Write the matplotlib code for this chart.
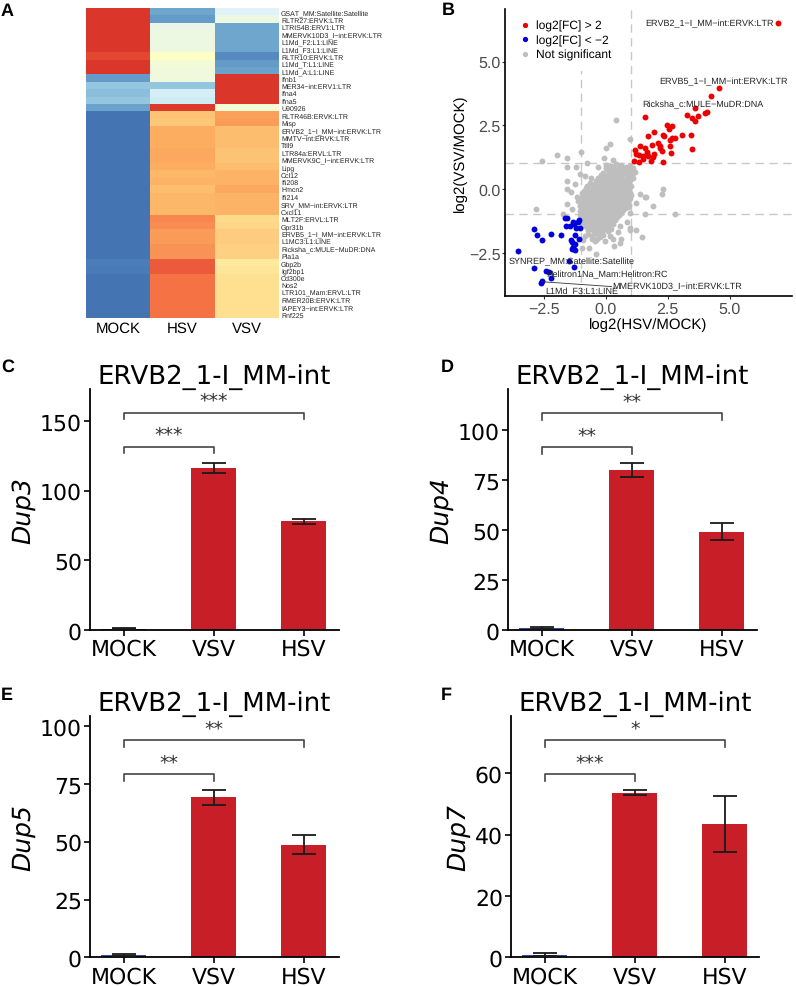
import matplotlib
matplotlib.use("Agg")
import matplotlib.pyplot as plt
from matplotlib.lines import Line2D

W, H = 796, 987
plt.rcParams['font.family'] = ['Liberation Sans', 'DejaVu Sans']
plt.rcParams['text.hinting'] = 'no_hinting'
plt.rcParams['text.hinting_factor'] = 1

# ---------- Panel A data ----------
heat_rows = ["GSAT_MM:Satellite:Satellite", "RLTR27:ERVK:LTR", "LTRIS4B:ERV1:LTR", "MMERVK10D3_I−int:ERVK:LTR",
             "L1Md_F2:L1:LINE", "L1Md_F3:L1:LINE", "RLTR10:ERVK:LTR", "L1Md_T:L1:LINE", "L1Md_A:L1:LINE",
             "Ifnb1", "MER34−int:ERV1:LTR", "Ifna4", "Ifna5", "U90926",
             "RLTR46B:ERVK:LTR", "Misp", "ERVB2_1−I_MM−int:ERVK:LTR", "MMTV−int:ERVK:LTR", "Ttll9",
             "LTR84a:ERVL:LTR", "MMERVK9C_I−int:ERVK:LTR", "Lipg", "Ccl12", "Ifi208", "Hmcn2", "Ifi214",
             "SRV_MM−int:ERVK:LTR", "Cxcl11", "MLT2F:ERVL:LTR", "Gpr31b", "ERVB5_1−I_MM−int:ERVK:LTR",
             "L1MC3:L1:LINE", "Ricksha_c:MULE−MuDR:DNA", "Pla1a", "Gbp2b", "Igf2bp1", "Cd300e", "Nos2",
             "LTR101_Mam:ERVL:LTR", "RMER20B:ERVK:LTR", "IAPEY3−int:ERVK:LTR", "Rnf225"]
heat_cols = ["MOCK", "HSV", "VSV"]
heat_mock = [.89, .89, .89, .89, .89, .89, .86, .89, .89,
             .17, .26, .24, .26, .18,
             .10, .10, .10, .10, .10, .10, .10, .10, .10, .10, .10, .10, .10, .10,
             .10, .10, .10, .10, .10, .10, .115, .11, .10, .10, .10, .10, .10, .10]
heat_hsv = [.19, .17, .43, .44, .44, .44, .49, .46, .45,
            .45, .26, .38, .37, .88,
            .66, .65, .70, .70, .70, .71, .71, .70, .68, .69, .67, .68, .68, .68,
            .76, .75, .73, .73, .74, .74, .83, .83, .79, .79, .79, .79, .79, .79]
heat_vsv = [.40, .44, .19, .19, .19, .19, .14, .17, .18,
            .89, .89, .89, .89, .46,
            .72, .73, .67, .67, .67, .66, .66, .67, .69, .69, .71, .69, .69, .69,
            .61, .62, .64, .64, .63, .63, .57, .58, .60, .60, .60, .60, .60, .60]

# ---------- Panel B data ----------
red_x = [6.95, 4.56, 4.24, 3.59, 1.58, 3.26, 3.47, 3.73, 3.62, 4.01, 4.10, 2.48, 2.67, 2.56, 1.93, 1.70, 2.32, 2.37,
         3.43, 3.06, 2.80, 2.68, 2.59, 2.12, 2.18, 1.86, 1.38, 2.59, 1.60, 1.20, 3.46, 2.18, 2.25, 1.67, 1.94, 2.65,
         1.24, 1.51, 1.71, 1.91, 1.35, 1.51, 1.14, 1.35, 1.81, 2.32, 1.65]
red_y = [6.52, 3.96, 3.63, 3.18, 2.81, 2.91, 2.78, 2.88, 2.67, 2.99, 3.00, 2.52, 2.48, 2.35, 2.25, 2.09, 2.12, 2.07,
         2.13, 2.10, 2.01, 1.99, 1.92, 1.80, 1.70, 1.74, 1.69, 1.70, 1.61, 1.54, 1.58, 1.61, 1.50, 1.44, 1.37, 1.41,
         1.37, 1.31, 1.31, 1.24, 1.33, 1.18, 1.08, 1.05, 1.08, 1.07, 1.37]
blue_x = [-2.90, -2.79, -2.57, -2.20, -1.82, -3.54, -2.90, -1.47, -1.28, -2.40, -2.29, -2.22, -2.57, -2.61, -1.65,
          -1.57, -1.08, -1.31, -1.11, -1.61, -1.45, -1.28, -1.18, -1.04, -1.22, -1.42, -1.35, -1.24, -1.31, -1.23,
          -1.34, -1.08]
blue_y = [-1.57, -1.80, -1.99, -1.76, -1.82, -2.44, -3.10, -2.81, -3.08, -3.20, -3.24, -3.49, -3.60, -3.69, -1.14,
          -1.15, -1.22, -1.28, -1.31, -1.45, -1.46, -1.39, -1.54, -1.52, -1.80, -1.99, -2.09, -2.17, -2.29, -2.38,
          -2.35, -1.96]
gray_x = [-2.58, -1.98, -1.58, -1.58, -1.00, 0.17, 0.00, -0.08, 0.30, 0.97, 0.41, -0.75, -0.30, -1.20, -1.02, -0.84,
          -0.61, -1.58, -1.25, -1.58, -1.42, -1.14, -1.11, -1.58, -2.82, -1.72, -1.38, 1.58, 1.64, 2.32, 2.25, 1.91,
          1.58, 2.81, 0.97, 0.90, 1.38, 1.24, 0.97, 1.24, 1.48, 0.57, 0.30, -0.10, -0.37, -0.57, -0.84, -0.94, -0.67,
          -0.40, 0.57, 0.23, 0.97, -0.91, -0.55, -0.24, 0.16, 0.50, -0.02, 0.62, 0.85, 0.33,
          0.02, 0.21, 0.43, 0.62, 0.81, 0.96,
          0.08, 0.26, 0.47, 0.66, 0.84, 1.03, 1.18,
          -0.18, 0.01, 0.22, 0.41, 0.63, 0.80, 1.02,
          -0.41, -0.22, -0.03, 0.18, 0.37, 0.58, 0.79, 0.98,
          -0.74, -0.55, -0.35, -0.16, 0.06, 0.24, 0.45, 0.63, 0.82, 1.01,
          -0.86, -0.66, -0.45, -0.27, -0.05, 0.14, 0.33, 0.54, 0.72, 0.93,
          -0.91, -0.71, -0.52, -0.30, -0.12, 0.07, 0.28, 0.47, 0.67, 0.86, 1.02,
          -1.01, -0.79, -0.60, -0.42, -0.19, 0.00, 0.19, 0.41, 0.59, 0.77, 0.94,
          -1.05, -0.84, -0.65, -0.46, -0.27, -0.06, 0.13, 0.32, 0.53, 0.71, 0.92,
          -1.03, -0.86, -0.64, -0.47, -0.25, -0.08, 0.12, 0.33, 0.50, 0.68,
          -1.05, -0.85, -0.67, -0.46, -0.28, -0.09, 0.10, 0.31, 0.52,
          -0.98, -0.80, -0.59, -0.42, -0.21, 0.02, 0.19, 0.38,
          -0.84, -0.63, -0.44, -0.24, -0.05, 0.18,
          -0.73, -0.52, -0.31, -0.12, 0.08, -0.90, -0.72, -0.49, -0.62, -0.28,
          -0.42, -0.18]
gray_y = [1.11, 1.33, 1.22, 0.88, 1.46, 1.75, 1.60, 1.20, 1.15, 1.95, 2.70, 1.00, 0.85, 0.85, 0.60, 0.52, 0.43, 0.33,
          0.20, -0.00, -0.13, -0.33, -0.46, -0.59, -0.80, -0.98, -0.78, -0.33, -0.33, -0.00, -0.20, -0.68, -0.98,
          -1.00, -0.94, -0.72, -0.20, -0.55, -1.52, -1.60, -1.90, -2.13, -1.96, -1.80, -1.96, -1.96, -1.83, -2.30,
          -2.30, -2.55, -1.44, -1.57, -1.63, -2.02, -1.83, -1.90, -1.83, -1.70, -2.05, -1.98, -1.30, -2.25,
          0.93, 0.90, 0.96, 0.92, 0.88, 0.94,
          0.74, 0.70, 0.75, 0.69, 0.76, 0.71, 0.68,
          0.54, 0.50, 0.56, 0.49, 0.53, 0.57, 0.50,
          0.33, 0.36, 0.30, 0.34, 0.31, 0.37, 0.29, 0.35,
          0.13, 0.17, 0.10, 0.15, 0.11, 0.16, 0.12, 0.09, 0.15, 0.11,
          -0.07, -0.03, -0.10, -0.05, -0.09, -0.04, -0.08, -0.05, -0.10, -0.06,
          -0.26, -0.22, -0.28, -0.24, -0.29, -0.23, -0.27, -0.25, -0.22, -0.28, -0.25,
          -0.46, -0.43, -0.49, -0.44, -0.47, -0.42, -0.48, -0.45, -0.43, -0.49, -0.44,
          -0.65, -0.62, -0.68, -0.64, -0.67, -0.63, -0.66, -0.61, -0.68, -0.65, -0.63,
          -0.85, -0.81, -0.87, -0.83, -0.86, -0.84, -0.88, -0.82, -0.86, -0.84,
          -1.04, -1.01, -1.07, -1.03, -1.06, -1.02, -1.05, -1.08, -1.03,
          -1.24, -1.21, -1.26, -1.22, -1.27, -1.23, -1.25, -1.21,
          -1.44, -1.41, -1.46, -1.42, -1.45, -1.40,
          -1.63, -1.60, -1.66, -1.61, -1.64, -1.32, -1.75, -1.78, -1.55, -1.75,
          -2.05, -1.70]
blob_x = [0.00, 0.12, 0.31, 0.52, 0.71, 0.90, 1.10,
          -0.10, 0.12, 0.30, 0.53, 0.72, 0.91, 1.12,
          -0.31, -0.12, 0.10, 0.28, 0.49, 0.70, 0.89, 1.08,
          -0.62, -0.45, -0.26, -0.05, 0.13, 0.32, 0.52, 0.73, 0.92,
          -0.78, -0.60, -0.41, -0.22, -0.03, 0.18, 0.37, 0.56, 0.74, 0.95,
          -0.97, -0.78, -0.58, -0.39, -0.20, 0.02, 0.20, 0.38, 0.60, 0.79, 0.98,
          -0.96, -0.76, -0.55, -0.36, -0.18, 0.03, 0.22, 0.42, 0.60, 0.80, 0.97,
          -1.00, -0.72, -0.56, -0.35, -0.15, 0.04, 0.24, 0.43, 0.62, 0.83,
          -0.97, -0.78, -0.55, -0.36, -0.17, 0.02, 0.23, 0.42, 0.60, 0.78,
          -0.96, -0.75, -0.57, -0.38, -0.17, 0.03, 0.20, 0.41, 0.62,
          -0.92, -0.72, -0.50, -0.33, -0.12, 0.08, 0.28, 0.45,
          -0.76, -0.55, -0.35, -0.14, 0.08, 0.28,
          -0.65, -0.42, -0.22, -0.01, 0.15]
blob_y = [0.83, 0.81, 0.85, 0.82, 0.84, 0.80, 0.83,
          0.62, 0.60, 0.64, 0.61, 0.63, 0.60, 0.62,
          0.43, 0.41, 0.45, 0.42, 0.44, 0.40, 0.43, 0.41,
          0.23, 0.21, 0.25, 0.22, 0.24, 0.20, 0.23, 0.21, 0.24,
          0.03, 0.01, 0.05, 0.02, 0.04, 0.00, 0.03, 0.01, 0.05, 0.02,
          -0.16, -0.18, -0.14, -0.17, -0.15, -0.19, -0.16, -0.13, -0.18, -0.15, -0.17,
          -0.36, -0.38, -0.34, -0.37, -0.35, -0.39, -0.36, -0.33, -0.38, -0.35, -0.37,
          -0.55, -0.57, -0.53, -0.56, -0.54, -0.58, -0.55, -0.52, -0.57, -0.54,
          -0.75, -0.77, -0.73, -0.76, -0.74, -0.78, -0.75, -0.72, -0.77, -0.74,
          -0.94, -0.96, -0.92, -0.95, -0.93, -0.97, -0.94, -0.91, -0.96,
          -1.14, -1.16, -1.12, -1.15, -1.13, -1.17, -1.14, -1.11,
          -1.34, -1.36, -1.32, -1.35, -1.33, -1.37,
          -1.53, -1.55, -1.51, -1.54, -1.52]
scatter_labels = ["ERVB2_1−I_MM−int:ERVK:LTR", "ERVB5_1−I_MM−int:ERVK:LTR", "Ricksha_c:MULE−MuDR:DNA",
                  "SYNREP_MM:Satellite:Satellite", "Helitron1Na_Mam:Helitron:RC", "L1Md_F3:L1:LINE",
                  "MMERVK10D3_I−int:ERVK:LTR"]
label_x = [1.58, 2.14, 1.46, -3.93, -2.39, -2.45, 0.28]
label_y = [6.52, 4.22, 3.33, -2.84, -3.33, -3.99, -3.82]

# ---------- Panels C-F data ----------
bar_groups = ["MOCK", "VSV", "HSV"]
bar_ylabels = ["Dup3", "Dup4", "Dup5", "Dup7"]
bar_title = "ERVB2_1-I_MM-int"
bar_values = [[1.0, 116.5, 78.0], [1.0, 80.0, 49.0], [1.0, 69.5, 48.5], [0.9, 53.7, 43.5]]
err_low = [[0.5, 3.6, 1.8], [0.4, 3.7, 4.0], [0.4, 3.4, 3.9], [0.4, 0.8, 9.3]]
err_high = [[0.5, 3.5, 2.0], [0.4, 3.5, 4.3], [0.4, 3.1, 4.3], [0.5, 1.0, 9.2]]
y_ticks = [[0, 50, 100, 150], [0, 25, 50, 75, 100], [0, 25, 50, 75, 100], [0, 20, 40, 60]]
y_tops = [173, 120.5, 104.6, 78.8]
upper_bracket = [156, 108.5, 94.1, 70.9]
lower_bracket = [131.6, 91.5, 79.2, 59.7]
upper_stars = ["***", "**", "**", "*"]
lower_stars = ["***", "**", "**", "***"]


def add_axes(l, t, r, b):
    return fig.add_axes([l / W, 1 - b / H, (r - l) / W, (b - t) / H])


fig = plt.figure(figsize=(W / 100, H / 100), dpi=100, facecolor='white')

# ---------- A ----------
ax = add_axes(86, 9, 279, 319)
matrix = [list(r) for r in zip(heat_mock, heat_hsv, heat_vsv)]
ax.pcolormesh(matrix, cmap='RdYlBu_r', vmin=0, vmax=1, rasterized=True)
ax.set_ylim(len(heat_rows), 0)
ax.set_xticks([0.5, 1.5, 2.5], heat_cols, fontsize=10.6)
ax.set_yticks([i + 0.5 for i in range(len(heat_rows))], heat_rows, fontsize=5.3, color='#222222')
ax.yaxis.tick_right()
ax.tick_params(length=0, pad=1.5, axis='y')
ax.tick_params(length=0, pad=2, axis='x')
for s in ax.spines.values():
    s.set_visible(False)

# ---------- B ----------
ax = add_axes(505.3, 10, 791.7, 297)
ax.set_xlim(-4.05, 7.5)
ax.set_ylim(-4.2, 7.06)
for v in (-1, 1):
    ax.axvline(v, color='#c8c8c8', lw=1.0, ls=(0, (6, 4)), zorder=1)
    ax.axhline(v, color='#c8c8c8', lw=1.0, ls=(0, (6, 4)), zorder=1)
ax.scatter(gray_x + blob_x, gray_y + blob_y, s=18, c='#bebebe', lw=0, zorder=2)
ax.scatter(red_x, red_y, s=18, c='#ee0000', lw=0, zorder=3)
ax.scatter(blue_x, blue_y, s=18, c='#0000dd', lw=0, zorder=3)
ax.plot([-2.57, 0.23], [-3.64, -3.83], color='#333333', lw=0.6, zorder=3)
for t, x, y in zip(scatter_labels, label_x, label_y):
    ax.text(x, y, t, fontsize=6.5, color='#222222', ha='left', va='center', zorder=4)
ax.set_xticks([-2.5, 0, 2.5, 5], ['−2.5', '0.0', '2.5', '5.0'])
ax.set_yticks([-2.5, 0, 2.5, 5], ['−2.5', '0.0', '2.5', '5.0'])
ax.tick_params(labelsize=11.7, labelcolor='#4d4d4d', length=2, width=0.8, color='#333333', pad=1.5)
ax.set_xlabel('log2(HSV/MOCK)', fontsize=10.7, labelpad=1)
ax.set_ylabel('log2(VSV/MOCK)', fontsize=10.7, labelpad=1)
ax.spines[['top', 'right']].set_visible(False)
ax.spines[['left', 'bottom']].set_linewidth(1.2)
handles = [Line2D([], [], ls='', marker='o', ms=3.8, mfc=c, mec='none') for c in ('#ee0000', '#0000dd', '#bebebe')]
leg = ax.legend(handles, ['log2[FC] > 2', 'log2[FC] < −2', 'Not significant'], loc='upper left',
                bbox_to_anchor=(0, 1.0), frameon=True, framealpha=1, edgecolor='none', facecolor='white',
                fontsize=8.3, labelspacing=0.3, handlelength=1.6, handletextpad=0.1, borderpad=0.95,
                borderaxespad=0, fancybox=False)
leg.set_zorder(2)

# ---------- C-F ----------
boxes = [(90.3, 390, 338.7, 631), (508.3, 390, 756.7, 631), (90.3, 716.7, 338.7, 958.3), (511.3, 716.7, 759.3, 958.3)]
for i, (l, t, r, b) in enumerate(boxes):
    ax = add_axes(l, t, r, b)
    xc = [0, 1, 2]
    ax.bar(xc, bar_values[i], width=0.5, color=['#2f4fa8', '#c81e27', '#c81e27'], zorder=2)
    ax.errorbar(xc, bar_values[i], yerr=[err_low[i], err_high[i]], fmt='none', ecolor='#1a1a1a',
                elinewidth=1.3, capsize=8.6, capthick=1.3, zorder=3)
    ax.set_xlim(-0.374, 2.386)
    ax.set_ylim(0, y_tops[i])
    ax.set_xticks(xc, bar_groups, fontfamily='DejaVu Sans', fontsize=15.6)
    ax.set_yticks(y_ticks[i], [str(v) for v in y_ticks[i]], fontfamily='DejaVu Sans', fontsize=15.6)
    ax.tick_params(length=4, width=1.2, pad=2)
    ax.spines[['top', 'right']].set_visible(False)
    ax.spines[['left', 'bottom']].set_linewidth(1.3)
    ax.set_title(bar_title, fontfamily='DejaVu Sans', fontsize=18.5, x=0.5, pad=4)
    ax.set_ylabel(bar_ylabels[i], fontfamily='DejaVu Sans', fontstyle='italic', fontsize=17.7, labelpad=3)
    drop = y_tops[i] * 0.028
    for x2, yb, st in ((2, upper_bracket[i], upper_stars[i]), (1, lower_bracket[i], lower_stars[i])):
        ax.plot([0, 0, x2, x2], [yb - drop, yb, yb, yb - drop], color='#444444', lw=1.2, zorder=3, clip_on=False)
        ax.text(x2 / 2, yb + y_tops[i] * 0.05, st, ha='center', va='center', fontfamily='DejaVu Sans',
                fontsize=13.5, color='#333333', clip_on=False)

# ---------- panel letters ----------
for s, x, y in (('A', 1, 16), ('B', 441.7, 15), ('C', 1, 372), ('D', 440.7, 372), ('E', 1, 700), ('F', 441, 700)):
    fig.text(x / W, 1 - y / H, s, fontsize=13, fontweight='bold', ha='left', va='baseline')

fig.savefig('out.png', dpi=100)
